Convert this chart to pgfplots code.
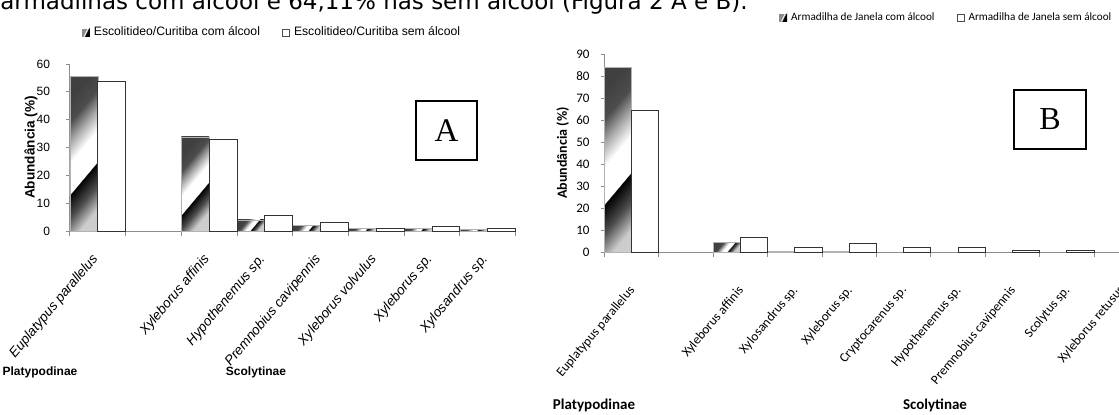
\documentclass[border=0pt]{standalone}
\usepackage{fontspec}
\usepackage{pgfplots}
\pgfplotsset{compat=1.18}
\usetikzlibrary{calc}
\newfontfamily\arialf{Liberation Sans}
\newfontfamily\calibrif{Carlito}
\newfontfamily\verdanaf{DejaVu Sans}
\newfontfamily\timesf{Liberation Serif}

% Excel-like diagonal gradient of the "com alcool" bars
\pgfdeclareverticalshading{exgrad}{100bp}{color(0bp)=(black!15); color(35bp)=(black!20); color(40bp)=(black!70); color(45bp)=(black); color(45.1bp)=(white); color(51.5bp)=(white); color(56bp)=(black!35); color(60bp)=(black!70); color(65bp)=(black!75); color(100bp)=(black!75)}

\pgfplotsset{
  exbar/.style={ybar, bar width=0.5, bar shift=0pt, draw=black!30, line width=0.3pt, fill=white, forget plot,
    path picture={\shade[path picture={}, draw=none, shading=exgrad, shading angle=50]
      let \p1=(path picture bounding box.south west),
          \p2=(path picture bounding box.north east),
          \n1={max(\x2-\x1,\y2-\y1)} in
      ({(\x1+\x2)/2-\n1/2},{(\y1+\y2)/2-\n1/2}) rectangle ++({\n1+0pt},{\n1+0pt});}},
  whbar/.style={ybar, bar width=0.5, bar shift=0pt, draw=black!80, line width=0.5pt, fill=white, forget plot},
  comleg/.style={legend image code/.code={
      \fill[black!45] (0pt,-1.8pt) rectangle (3.6pt,1.8pt);
      \fill[black] (1.8pt,-1.8pt) -- (3.6pt,1.8pt) -- (3.6pt,-1.8pt) -- cycle;
      \draw[white, line width=0.4pt] (0.9pt,-1.8pt) -- (2.7pt,1.8pt);}},
  semleg/.style={legend image code/.code={
      \draw[black!70, fill=white, line width=0.4pt] (0pt,-1.8pt) rectangle (3.6pt,1.8pt);}},
  panel/.style={
    anchor=south west, scale only axis, clip=false,
    axis lines*=left, axis line style={black!45, line width=0.5pt},
    tick align=outside, major tick length=2pt, minor tick length=2.5pt,
    ytick style={black!45, line width=0.5pt},
    major x tick style={draw=none},
    minor x tick style={black!45, line width=0.5pt},
    /pgf/number format/assume math mode=true,
    legend columns=2,
    legend style={draw=none, fill=none, anchor=center,
      /tikz/every even column/.append style={column sep=9pt}},
  },
}

\begin{document}
\begin{tikzpicture}
\useasboundingbox (0,0) rectangle (559.5pt,207pt);
\clip (0,0) rectangle (559.5pt,207pt);

\node[anchor=base west, inner sep=0pt, font=\verdanaf\fontsize{11.5}{13}\selectfont]
  at (0pt,202.5pt) {armadilhas com álcool e 64,11\% nas sem álcool (Figura 2 A e B).};

% ---------------- A ----------------
\begin{axis}[panel,
  at={(35pt,91.5pt)}, width=222.8pt, height=83.5pt,
  xmin=0, xmax=8, ymin=0, ymax=60,
  ytick={0,10,...,60},
  xtick={0.5,2.5,3.5,4.5,5.5,6.5,7.5},
  xticklabels={Euplatypus parallelus, Xyleborus affinis, Hypothenemus sp., Premnobius cavipennis, Xyleborus volvulus, Xyleborus sp., Xylosandrus sp.},
  minor xtick={0,1,...,8},
  xticklabel style={font=\arialf\itshape\fontsize{6.8}{8}\selectfont, xshift=-1pt, yshift=-10.8pt, rotate=50, anchor=east, inner sep=0pt},
  yticklabel style={font=\arialf\fontsize{6}{7}\selectfont, xshift=-4.5pt},
  ylabel={Abundância (\%)},
  ylabel style={at={(axis description cs:-0.0875,0.5)}, anchor=center, font=\arialf\bfseries\fontsize{6.8}{8}\selectfont},
  legend style={at={(0.4556,1.186)}, font=\arialf\fontsize{6.1}{7}\selectfont},
]
\addplot[exbar] coordinates {(0.25,55.6)};
\addplot[exbar] coordinates {(2.25,33.8)};
\addplot[exbar] coordinates {(3.25,4.0)};
\addplot[exbar] coordinates {(4.25,2.0)};
\addplot[exbar] coordinates {(5.25,0.9)};
\addplot[exbar] coordinates {(6.25,0.9)};
\addplot[exbar] coordinates {(7.25,0.5)};
\addplot[whbar] coordinates {(0.75,53.8) (2.75,33.0) (3.75,5.5) (4.75,3.0) (5.75,0.8) (6.75,1.5) (7.75,0.8)};
\addlegendimage{comleg}
\addlegendentry{Escolitideo/Curitiba com álcool}
\addlegendimage{semleg}
\addlegendentry{Escolitideo/Curitiba sem álcool}
\end{axis}

\node[draw, line width=0.9pt, minimum width=30.5pt, minimum height=29.5pt, inner sep=0pt,
  font=\timesf\fontsize{16.5}{18}\selectfont] at (223.25pt,141.75pt) {A};
\node[anchor=base, font=\arialf\bfseries\fontsize{6}{7}\selectfont] at (20pt,19.5pt) {Platypodinae};
\node[anchor=base, font=\arialf\bfseries\fontsize{6}{7}\selectfont] at (128pt,19.5pt) {Scolytinae};

% ---------------- B ----------------
\begin{axis}[panel,
  at={(302.25pt,81pt)}, width=272pt, height=99pt,
  xmin=0, xmax=10, ymin=0, ymax=90,
  ytick={0,10,...,90},
  xtick={0.5,2.5,3.5,4.5,5.5,6.5,7.5,8.5,9.5},
  xticklabels={Euplatypus parallelus, Xyleborus affinis, Xylosandrus sp., Xyleborus sp., Cryptocarenus sp., Hypothenemus sp., Premnobius cavipennis, Scolytus sp., Xyleborus retusus},
  minor xtick={0,1,...,10},
  xticklabel style={font=\calibrif\fontsize{6.6}{8}\selectfont, xshift=0.5pt, yshift=-16pt, rotate=50, anchor=east, inner sep=0pt},
  yticklabel style={font=\calibrif\fontsize{6.5}{7}\selectfont, xshift=-2pt},
  ylabel={Abundância (\%)},
  ylabel style={at={(axis description cs:-0.077,0.5)}, anchor=center, font=\calibrif\bfseries\fontsize{7}{8}\selectfont},
  legend style={at={(0.63,1.182)}, font=\calibrif\fontsize{5.6}{7}\selectfont},
]
\addplot[exbar] coordinates {(0.25,83.8)};
\addplot[exbar] coordinates {(2.25,4.4)};
\addplot[exbar] coordinates {(3.25,0.3)};
\addplot[exbar] coordinates {(4.25,0.3)};
\addplot[whbar] coordinates {(0.75,64.2) (2.75,6.7) (3.75,2.1) (4.75,3.9) (5.75,2.1) (6.75,1.9) (7.75,0.9) (8.75,0.9) (9.75,0.9)};
\addlegendimage{comleg}
\addlegendentry{Armadilha de Janela com álcool}
\addlegendimage{semleg}
\addlegendentry{Armadilha de Janela sem álcool}
\end{axis}

\node[draw, line width=0.9pt, minimum width=36pt, minimum height=29.5pt, inner sep=0pt,
  font=\timesf\fontsize{16}{18}\selectfont] at (525pt,147.25pt) {B};
\node[anchor=base, font=\calibrif\bfseries\fontsize{7.5}{8}\selectfont] at (297pt,2.5pt) {Platypodinae};
\node[anchor=base, font=\calibrif\bfseries\fontsize{7.5}{8}\selectfont] at (467.5pt,2.5pt) {Scolytinae};
\end{tikzpicture}
\end{document}
